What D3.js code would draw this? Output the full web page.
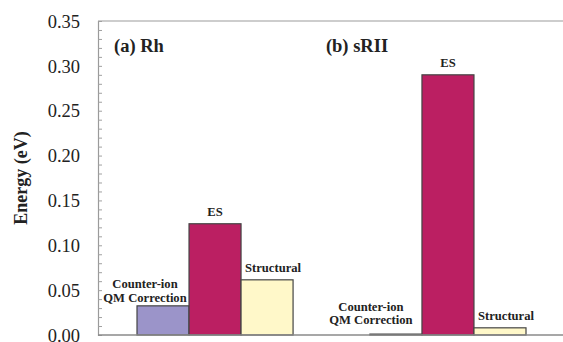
<!DOCTYPE html>
<html>
<head>
<meta charset="utf-8">
<script src="https://cdn.jsdelivr.net/npm/d3@7"></script>
</head>
<body style="margin:0;background:#fff">
<svg id="chart" width="563" height="342" style="display:block"></svg>
<script>
// Energy contributions per protein system
const panels = ["Rh", "sRII"];
const panelTitles = ["(a) Rh", "(b) sRII"];
const categories = ["Counter-ion QM Correction", "ES", "Structural"];
const rhValues = [0.0325, 0.124, 0.0615];
const sriiValues = [0.001, 0.290, 0.008];
const yTicks = [0.00, 0.05, 0.10, 0.15, 0.20, 0.25, 0.30, 0.35];

const seriesByPanel = { Rh: rhValues, sRII: sriiValues };
const fills = { "Counter-ion QM Correction": "#9b94c9", "ES": "#bb1f62", "Structural": "#fff8c9" };
const SERIF = '"Liberation Serif"';

const svg = d3.select("#chart");
const W = 563;
const plot = { left: 98, top: 21, bottom: 335 };

const y = d3.scaleLinear().domain([0, 0.35]).range([plot.bottom, plot.top]);

const xPanel = d3.scaleBand().domain(panels).range([137, 526]).paddingInner(0.33).paddingOuter(0);
const xCat = d3.scaleBand().domain(categories).range([0, xPanel.bandwidth()]).padding(0);

// top border runs across the full width
svg.append("line").attr("x1", plot.left).attr("x2", W).attr("y1", plot.top).attr("y2", plot.top)
  .attr("stroke", "#bdbdbd").attr("stroke-width", 1.5);

// y axis with minor ticks every 0.01 drawn on the inside
const yAxis = d3.axisRight(y).tickValues(d3.range(0, 0.3501, 0.01)).tickSize(4).tickFormat("");
const gy = svg.append("g").attr("transform", `translate(${plot.left},0)`).call(yAxis);
gy.select(".domain").attr("stroke", "#9a9a9a").attr("stroke-width", 1.2);
gy.selectAll(".tick line").attr("stroke", "#a0a0a0");

// y tick labels
const yFmt = d3.format(".2f");
svg.append("g").selectAll("text").data(yTicks).join("text")
  .attr("x", plot.left - 18)
  .attr("y", d => y(d))
  .attr("dy", "0.36em")
  .attr("text-anchor", "end")
  .style("font-family", SERIF)
  .attr("font-size", 18.5).attr("fill", "#222")
  .text(yFmt);

// y axis title
svg.append("text")
  .attr("transform", `translate(27,${(plot.top + plot.bottom) / 2}) rotate(-90)`)
  .attr("text-anchor", "middle")
  .style("font-family", SERIF)
  .attr("font-size", 18).attr("font-weight", "bold").attr("fill", "#222")
  .text("Energy (eV)");

// bars
const rows = panels.flatMap(p => categories.map((c, i) => ({ panel: p, cat: c, value: seriesByPanel[p][i] })));

svg.append("g").selectAll("rect").data(rows).join("rect")
  .attr("x", d => xPanel(d.panel) + xCat(d.cat))
  .attr("width", xCat.bandwidth())
  .attr("y", d => y(d.value))
  .attr("height", d => y(0) - y(d.value))
  .attr("fill", d => fills[d.cat])
  .attr("stroke", "#444").attr("stroke-width", 1.2);

// baseline
svg.append("line").attr("x1", plot.left).attr("x2", W).attr("y1", plot.bottom).attr("y2", plot.bottom)
  .attr("stroke", "#8a8a8a").attr("stroke-width", 1.3);

// panel titles, set a little left of each bar group
const titleShift = { Rh: -23, sRII: -44 };
panels.forEach((p, i) => {
  svg.append("text")
    .attr("x", xPanel(p) + titleShift[p])
    .attr("y", 52)
    .style("font-family", SERIF)
    .attr("font-size", 18.5).attr("font-weight", "bold").attr("fill", "#222")
    .text(panelTitles[i]);
});

// bar labels
const labelGap = { Rh: 4, sRII: 10 };
const lab = svg.append("g").attr("font-weight", "bold").attr("fill", "#222").attr("font-size", 12.6);
const addText = () => lab.append("text").style("font-family", SERIF).attr("text-anchor", "middle");
rows.forEach(d => {
  const cx = xPanel(d.panel) + xCat(d.cat) + xCat.bandwidth() / 2;
  const top = y(d.value);
  if (d.cat === "Counter-ion QM Correction") {
    const t = addText();
    const base = top - labelGap[d.panel];
    const lx = cx - (d.panel === "Rh" ? 18 : 25);
    t.append("tspan").attr("x", lx).attr("y", base - 13.5).text("Counter-ion");
    t.append("tspan").attr("x", lx).attr("y", base).text("QM Correction");
  } else if (d.cat === "ES") {
    addText().attr("x", cx).attr("y", top - 8).text("ES");
  } else {
    addText().attr("x", cx + 6).attr("y", top - 8).text("Structural");
  }
});
</script>
</body>
</html>
